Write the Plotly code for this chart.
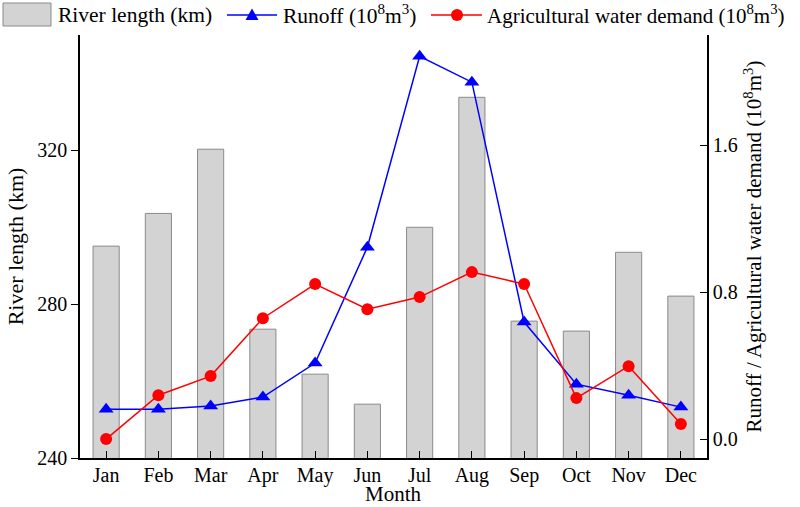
import plotly.graph_objects as go

months = ["Jan", "Feb", "Mar", "Apr", "May", "Jun", "Jul", "Aug", "Sep", "Oct", "Nov", "Dec"]
river_length = [295.1, 303.6, 320.3, 273.5, 261.8, 254.0, 300.0, 333.8, 275.6, 273.0, 293.5, 282.1]
runoff = [0.163, 0.163, 0.18, 0.229, 0.414, 1.045, 2.084, 1.943, 0.637, 0.299, 0.239, 0.174]
agri_demand = [0.0, 0.239, 0.343, 0.658, 0.844, 0.707, 0.773, 0.909, 0.844, 0.223, 0.397, 0.082]

names = ["River length (km)", "Runoff (10<sup>8</sup>m<sup>3</sup>)",
         "Agricultural water demand (10<sup>8</sup>m<sup>3</sup>)"]

font = "Liberation Serif, Times New Roman, serif"
BAR_FILL, BAR_LINE, BLUE, RED = "#d3d3d3", "#8a8a8a", "#0000ff", "#ff0000"

W, H = 800, 507
ML, MR, MT, MB = 80, 93, 35, 49
PW, PH = W - ML - MR, H - MT - MB


def px(x):
    return (x - ML) / PW


def py(y):
    return (H - MB - y) / PH


fig = go.Figure()
fig.add_trace(go.Bar(
    x=months, y=river_length, name=names[0],
    marker=dict(color=BAR_FILL, line=dict(color=BAR_LINE, width=1)),
    width=0.5, yaxis="y",
))
fig.add_trace(go.Scatter(
    x=months, y=runoff, name=names[1],
    mode="lines+markers", line=dict(color=BLUE, width=1.5),
    marker=dict(symbol="triangle-up", size=13, color=BLUE),
    yaxis="y2",
))
fig.add_trace(go.Scatter(
    x=months, y=agri_demand, name=names[2],
    mode="lines+markers", line=dict(color=RED, width=1.5),
    marker=dict(symbol="circle", size=12, color=RED),
    yaxis="y2",
))

# manual legend (layout decoration)
shapes = []
annotations = []
ly = 15
shapes.append(dict(type="rect", xref="paper", yref="paper",
                   x0=px(3), x1=px(51), y0=py(26), y1=py(3),
                   fillcolor=BAR_FILL, line=dict(color=BAR_LINE, width=1)))
annotations.append(dict(xref="paper", yref="paper", x=px(56), y=py(ly), xanchor="left",
                        yanchor="middle", text=names[0], showarrow=False,
                        font=dict(size=21.5, family=font)))
shapes.append(dict(type="line", xref="paper", yref="paper", x0=px(227), x1=px(277),
                   y0=py(ly), y1=py(ly), line=dict(color=BLUE, width=1.5)))
tx, ty = 252, ly
shapes.append(dict(type="path", xref="paper", yref="paper",
                   path=f"M {px(tx-6.5)} {py(ty+5)} L {px(tx+6.5)} {py(ty+5)} L {px(tx)} {py(ty-6.5)} Z",
                   fillcolor=BLUE, line=dict(color=BLUE, width=0)))
annotations.append(dict(xref="paper", yref="paper", x=px(281), y=py(ly), xanchor="left",
                        yanchor="middle", text=names[1], showarrow=False,
                        font=dict(size=21.5, family=font)))
shapes.append(dict(type="line", xref="paper", yref="paper", x0=px(431), x1=px(482),
                   y0=py(ly), y1=py(ly), line=dict(color=RED, width=1.5)))
cx, cy = 457, ly
shapes.append(dict(type="circle", xref="paper", yref="paper",
                   x0=px(cx-6), x1=px(cx+6), y0=py(cy+6), y1=py(cy-6),
                   fillcolor=RED, line=dict(color=RED, width=0)))
annotations.append(dict(xref="paper", yref="paper", x=px(485), y=py(ly), xanchor="left",
                        yanchor="middle", text=names[2], showarrow=False,
                        font=dict(size=21, family=font)))
# x-axis title as annotation for precise placement
annotations.append(dict(xref="paper", yref="paper", x=0.5, y=py(507), xanchor="center",
                        yanchor="bottom", text="Month", showarrow=False, borderpad=0,
                        font=dict(size=21, family=font)))

fig.update_layout(
    width=W, height=H,
    margin=dict(l=ML, r=MR, t=MT, b=MB, autoexpand=False),
    paper_bgcolor="white", plot_bgcolor="white",
    font=dict(family=font, size=20, color="black"),
    showlegend=False,
    shapes=shapes, annotations=annotations,
    xaxis=dict(
        range=[-0.5, 11.5], showline=True, linecolor="black", linewidth=1.5,
        ticks="inside", ticklen=7, tickcolor="black", automargin=False,
        ticklabelstandoff=-2,
        tickfont=dict(size=20), showgrid=False, zeroline=False,
    ),
    yaxis=dict(
        range=[240, 350], tickvals=[240, 280, 320], showline=True, linecolor="black",
        linewidth=1.5, ticks="outside", ticklen=7, tickcolor="black", automargin=False,
        title=dict(text="River length (km)", font=dict(size=22), standoff=8),
        tickfont=dict(size=20), showgrid=False, zeroline=False,
    ),
    yaxis2=dict(
        range=[-0.103, 2.2], tickvals=[0, 0.8, 1.6], ticktext=["0.0", "0.8", "1.6"],
        overlaying="y", side="right", showline=True, linecolor="black",
        linewidth=1.5, ticks="inside", ticklen=7, tickcolor="black", automargin=False,
        title=dict(text="Runoff / Agricultural water demand (10<sup>8</sup>m<sup>3</sup>)",
                   font=dict(size=21), standoff=10),
        tickfont=dict(size=20), showgrid=False, zeroline=False,
    ),
)

fig.write_html("out.html", config={"displayModeBar": False},
               post_script="document.body.style.margin='0';document.body.style.overflow='hidden';")
